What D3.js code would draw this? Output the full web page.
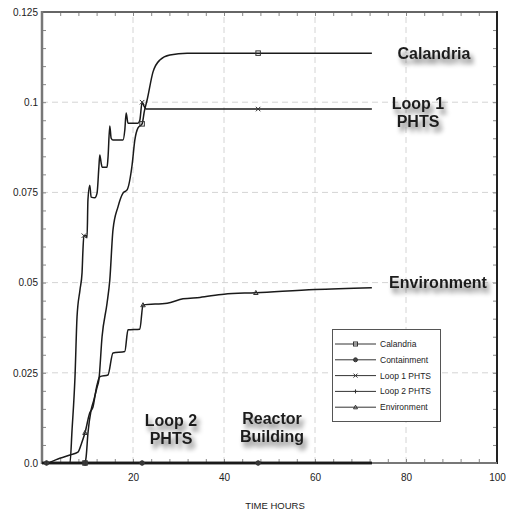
<!DOCTYPE html>
<html><head><meta charset="utf-8">
<script src="https://cdn.jsdelivr.net/npm/d3@7/dist/d3.min.js"></script>
<style>html,body{margin:0;padding:0;background:#fff;}svg{display:block;font-family:"Liberation Sans",Arial,sans-serif;}</style>
</head><body><svg id="c" width="506" height="513"></svg>
<script>
// ---- data ----
const xTicks = [20, 40, 60, 80, 100];
const xTickLabels = ["20", "40", "60", "80", "100"];
const yTicks = [0, 0.025, 0.05, 0.075, 0.1, 0.125];
const yTickLabels = ["0.0", "0.025", "0.05", "0.075", "0.1", "0.125"];
const seriesNames = ["Calandria", "Containment", "Loop 1 PHTS", "Loop 2 PHTS", "Environment"];
const markerTypes = ["square", "circle", "cross", "plus", "triangle"];

const calandria = [[0,0],[9.45,0],[9.7,0.0017],[10.1,0.0083],[10.8,0.0147],[11.4,0.0175],[12.1,0.021],[12.5,0.023],
  [13.2,0.035],[14.3,0.0443],[14.9,0.0507],[15.6,0.0646],[16.7,0.071],[17.8,0.0748],[18.7,0.0757],[19.8,0.0826],
  [20.4,0.0895],[21.1,0.0929],[22.0,0.094],[22.5,0.0975],[23.1,0.1006],[24.4,0.1084],[25.9,0.1117],[28.1,0.1131],
  [31.9,0.1136],[72.5,0.1136]];
const containment = [[0,0],[72.5,0]];
const loop1 = [[0,0],[6.15,0],[6.6,0.0091],[7.25,0.0238],[7.7,0.0405],[8.35,0.048],[8.8,0.0527],[9.0,0.059],
  [9.2,0.063],[9.7,0.063],[9.9,0.0624],[10.1,0.073],[10.5,0.077],[10.8,0.0737],[11.6,0.0735],[12.1,0.0748],
  [12.5,0.082],[12.7,0.0854],[13.0,0.0832],[13.2,0.082],[14.3,0.082],[14.5,0.0845],[14.9,0.0934],[15.2,0.090],
  [15.6,0.0895],[17.8,0.0895],[18.2,0.0923],[18.5,0.097],[18.9,0.0942],[21.1,0.0942],[21.5,0.095],[22.0,0.100],
  [22.4,0.099],[22.9,0.0981],[72.5,0.0981]];
const loop2 = [[0,0],[72.5,0]];
const environment = [[0,0],[0.9,0],[3.5,0.0011],[6.15,0.0022],[7.9,0.003],[8.7,0.0055],[9.45,0.0084],[10.5,0.0139],
  [11.2,0.0155],[12.0,0.0211],[12.7,0.0239],[14.5,0.0244],[15.6,0.0305],[18.2,0.0309],[18.9,0.0369],[21.5,0.0371],
  [22.2,0.0438],[27.5,0.0443],[31,0.0455],[34.7,0.0459],[40,0.0468],[47,0.0472],[60,0.0481],[72.5,0.0486]];
const markerTimes = [
  [9.45, 22.0, 47.5],      // Calandria
  [1.0, 9.5, 22.0, 47.5],  // Containment
  [9.2, 22.0, 47.5],       // Loop 1
  [1.0, 9.5, 22.0, 47.5],  // Loop 2
  [9.45, 22.2, 47.0]       // Environment
];
const allSeries = [calandria, containment, loop1, loop2, environment];
const annotations = [
  {lines: ["Calandria"], x: 434, y: 53},
  {lines: ["Loop 1", "PHTS"], x: 418, y: 103},
  {lines: ["Environment"], x: 438, y: 282},
  {lines: ["Loop 2", "PHTS"], x: 171, y: 420},
  {lines: ["Reactor", "Building"], x: 272, y: 418}
];

// ---- layout ----
const svg = d3.select("#c");
const x = d3.scaleLinear().domain([0, 100]).range([42, 497]);
const y = d3.scaleLinear().domain([0, 0.125]).range([463, 12]);

const defs = svg.append("defs");
const f = defs.append("filter").attr("id", "sh").attr("x", "-30%").attr("y", "-40%").attr("width", "160%").attr("height", "200%");
f.append("feGaussianBlur").attr("in", "SourceAlpha").attr("stdDeviation", 2.6).attr("result", "b");
f.append("feOffset").attr("in", "b").attr("dx", 3).attr("dy", 5).attr("result", "o");
const ct = f.append("feComponentTransfer").attr("in", "o").attr("result", "o2");
ct.append("feFuncA").attr("type", "linear").attr("slope", 0.55);
const fm = f.append("feMerge");
fm.append("feMergeNode").attr("in", "o2");
fm.append("feMergeNode").attr("in", "SourceGraphic");

// grid
const g = svg.append("g");
g.selectAll(".gx").data(xTicks.filter(d => d < 100)).join("line")
  .attr("x1", d => x(d)).attr("x2", d => x(d)).attr("y1", y(0)).attr("y2", y(0.125))
  .attr("stroke", "#d4d4d4").attr("stroke-width", 1).attr("stroke-dasharray", "6,4");
g.selectAll(".gy").data(yTicks.filter(d => d > 0 && d < 0.125)).join("line")
  .attr("y1", d => y(d)).attr("y2", d => y(d)).attr("x1", x(0)).attr("x2", x(100))
  .attr("stroke", "#d4d4d4").attr("stroke-width", 1).attr("stroke-dasharray", "6,4");

// minor ticks
const xMinor = d3.range(0, 101, 4);
const yMinor = d3.range(0, 0.1251, 0.005);
function styleAxis(sel, col) {
  sel.select(".domain").remove();
  sel.selectAll(".tick line").attr("stroke", col).attr("stroke-width", 1);
  sel.selectAll(".tick text").remove();
}
svg.append("g").attr("transform", `translate(0,${y(0)})`)
  .call(d3.axisBottom(x).tickValues(xMinor).tickSize(-4)).call(s => styleAxis(s, "#888"));
svg.append("g").attr("transform", `translate(0,${y(0.125)})`)
  .call(d3.axisTop(x).tickValues(xMinor).tickSize(-4)).call(s => styleAxis(s, "#888"));
svg.append("g").attr("transform", `translate(${x(0)},0)`)
  .call(d3.axisLeft(y).tickValues(yMinor).tickSize(-4)).call(s => styleAxis(s, "#888"));
svg.append("g").attr("transform", `translate(${x(100)},0)`)
  .call(d3.axisRight(y).tickValues(yMinor).tickSize(-4)).call(s => styleAxis(s, "#888"));

// frame
svg.append("line").attr("x1", x(0)).attr("x2", x(100)).attr("y1", y(0.125)).attr("y2", y(0.125)).attr("stroke", "#666").attr("stroke-width", 2);
svg.append("line").attr("x1", x(100)).attr("x2", x(100)).attr("y1", y(0.125) - 1).attr("y2", y(0) + 1).attr("stroke", "#222").attr("stroke-width", 2);
svg.append("line").attr("x1", x(0)).attr("x2", x(0)).attr("y1", y(0.125) - 1).attr("y2", y(0) + 1).attr("stroke", "#777").attr("stroke-width", 2.5);
svg.append("line").attr("x1", x(0)).attr("x2", x(100)).attr("y1", y(0)).attr("y2", y(0)).attr("stroke", "#777").attr("stroke-width", 2);

// tick labels
const yAx = svg.append("g").attr("transform", `translate(${x(0)},0)`)
  .call(d3.axisLeft(y).tickValues(yTicks).tickSize(0).tickPadding(4).tickFormat((d, i) => yTickLabels[i]));
yAx.select(".domain").remove();
yAx.selectAll("text").attr("font-size", 10).attr("fill", "#222").attr("font-family", "Liberation Sans, Arial, sans-serif");
const xAx = svg.append("g").attr("transform", `translate(0,${y(0)})`)
  .call(d3.axisBottom(x).tickValues(xTicks).tickSize(0).tickPadding(11).tickFormat((d, i) => xTickLabels[i]));
xAx.select(".domain").remove();
xAx.selectAll("text").attr("font-size", 10).attr("fill", "#222").attr("font-family", "Liberation Sans, Arial, sans-serif");

svg.append("text").attr("x", 275).attr("y", 509).attr("text-anchor", "middle")
  .attr("font-size", 9.5).attr("fill", "#222").text("TIME HOURS");

// lines
const line = d3.line().x(d => x(d[0])).y(d => y(d[1])).curve(d3.curveMonotoneX);
allSeries.forEach((s, i) => {
  svg.append("path").attr("d", line(s)).attr("fill", "none")
    .attr("stroke", "#1a1a1a").attr("stroke-width", (i === 1 || i === 3) ? 2.4 : 1.5)
    .attr("stroke-linejoin", "round");
});

// markers
function valueAt(s, t) {
  for (let k = 1; k < s.length; k++) {
    if (t <= s[k][0]) {
      const a = s[k-1], b = s[k];
      const r = (t - a[0]) / (b[0] - a[0] || 1);
      return a[1] + r * (b[1] - a[1]);
    }
  }
  return s[s.length-1][1];
}
function drawMarker(gsel, type, cx, cy, sz) {
  const h = sz / 2;
  if (type === "square") gsel.append("rect").attr("x", cx - h).attr("y", cy - h).attr("width", sz).attr("height", sz).attr("fill", "none").attr("stroke", "#333").attr("stroke-width", 1);
  else if (type === "circle") gsel.append("circle").attr("cx", cx).attr("cy", cy).attr("r", h).attr("fill", "#444").attr("stroke", "#333");
  else if (type === "cross") gsel.append("path").attr("d", `M${cx-h},${cy-h}L${cx+h},${cy+h}M${cx-h},${cy+h}L${cx+h},${cy-h}`).attr("stroke", "#333").attr("stroke-width", 1);
  else if (type === "plus") gsel.append("path").attr("d", `M${cx-h},${cy}L${cx+h},${cy}M${cx},${cy-h}L${cx},${cy+h}`).attr("stroke", "#333").attr("stroke-width", 1);
  else if (type === "triangle") gsel.append("path").attr("d", `M${cx},${cy-h}L${cx+h},${cy+h*0.8}L${cx-h},${cy+h*0.8}Z`).attr("fill", "none").attr("stroke", "#333").attr("stroke-width", 1);
}
const mg = svg.append("g");
allSeries.forEach((s, i) => {
  markerTimes[i].forEach(t => drawMarker(mg, markerTypes[i], x(t), y(valueAt(s, t)), 4.5));
});

// legend
const lg = svg.append("g");
lg.append("rect").attr("x", 332.5).attr("y", 329.5).attr("width", 108).attr("height", 92)
  .attr("fill", "#fff").attr("stroke", "#555").attr("stroke-width", 1);
seriesNames.forEach((n, i) => {
  const ly = 344 + i * 15.8;
  lg.append("line").attr("x1", 335).attr("x2", 376).attr("y1", ly).attr("y2", ly).attr("stroke", "#333").attr("stroke-width", 1);
  drawMarker(lg, markerTypes[i], 355.5, ly, 4);
  lg.append("text").attr("x", 380).attr("y", ly + 3).attr("font-size", 8.5).attr("fill", "#222").text(n);
});

// annotations
annotations.forEach(a => {
  const t = svg.append("text").attr("text-anchor", "middle").attr("font-size", 16).attr("font-weight", "bold")
    .attr("fill", "#1e1e1e").attr("filter", "url(#sh)");
  a.lines.forEach((l, k) => {
    t.append("tspan").attr("x", a.x).attr("y", a.y + 6 + k * 18).text(l);
  });
});
</script></body></html>
